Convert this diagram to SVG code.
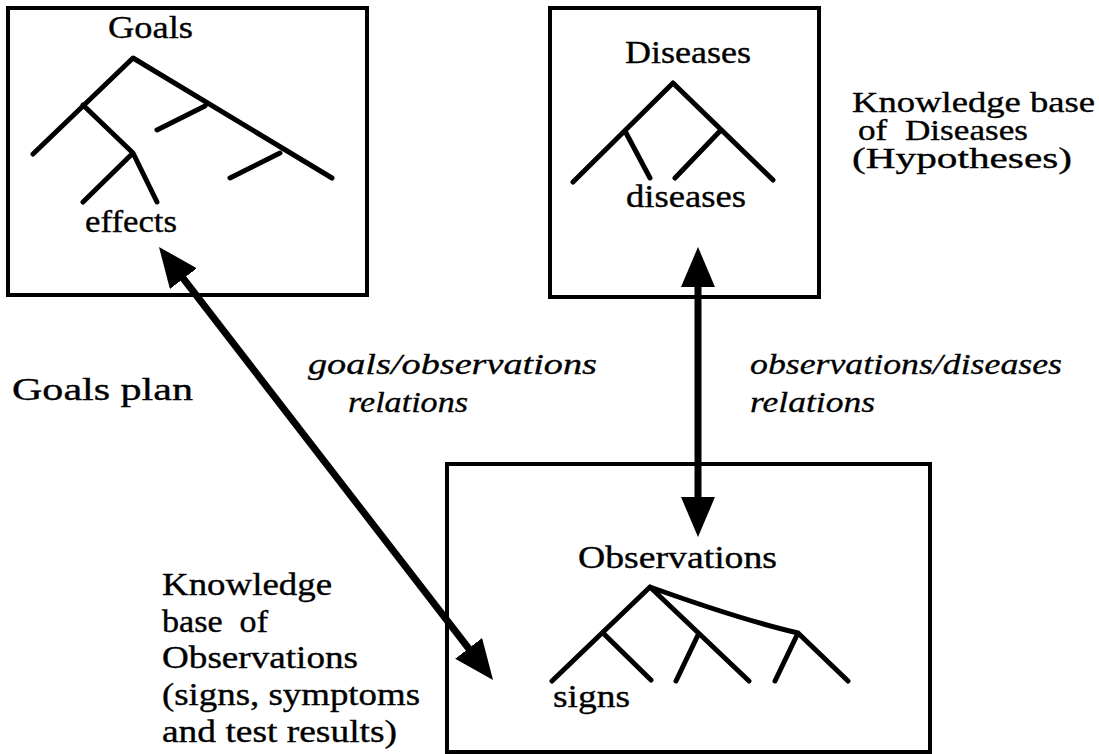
<svg xmlns="http://www.w3.org/2000/svg" width="1099" height="754" viewBox="0 0 1099 754">
  <style>
    .box { fill: none; stroke: #000; stroke-width: 4; }
    .tree { fill: none; stroke: #000; stroke-width: 5; stroke-linecap: round; stroke-linejoin: round; }
    .lbl { font-family: "Liberation Serif", "Times New Roman", serif; font-size: 31px; fill: #000; stroke: #000; stroke-width: 0.35; }
    .cap { font-size: 30px; }
    .rel { font-family: "Liberation Serif", "Times New Roman", serif; font-size: 29px; font-style: italic; fill: #000; stroke: #000; stroke-width: 0.3; }
    .link { fill: none; stroke: #000; stroke-width: 7; }
  </style>
  <defs>
    <marker id="head" markerUnits="userSpaceOnUse" markerWidth="42" markerHeight="34" refX="9" refY="17" orient="auto-start-reverse">
      <path d="M0,0 L40,17 L0,34 Z" fill="#000"/>
    </marker>
  </defs>
  <rect width="1099" height="754" fill="#fff"/>

  <!-- goals hierarchy -->
  <g id="goals">
    <rect class="box" x="8" y="8" width="359" height="287"/>
    <text class="lbl" x="108" y="38" textLength="85" lengthAdjust="spacingAndGlyphs">Goals</text>
    <path class="tree" d="M33,154 L133,58 L332,178 M83,105 L133,153 L83,202 M133,153 L157,202 M205,106 L157,130 M280,153 L230,178"/>
    <text class="lbl" x="85" y="232" textLength="92" lengthAdjust="spacingAndGlyphs">effects</text>
  </g>

  <!-- diseases hierarchy -->
  <g id="diseases">
    <rect class="box" x="550" y="8" width="269" height="289"/>
    <text class="lbl" x="625" y="63" textLength="126" lengthAdjust="spacingAndGlyphs">Diseases</text>
    <path class="tree" d="M573,182 L673,83 L773,180 M625,131 L650,178 M721,130 L675,178"/>
    <text class="lbl" x="626" y="207" textLength="120" lengthAdjust="spacingAndGlyphs">diseases</text>
  </g>

  <!-- observations hierarchy -->
  <g id="observations">
    <rect class="box" x="447" y="464" width="483" height="288"/>
    <text class="lbl" x="578" y="568" textLength="199" lengthAdjust="spacingAndGlyphs">Observations</text>
    <path class="tree" d="M552,681 L650,587 L749,681 M603,633 L651,680 M698,635 L676,681 M650,587 Q742,620 798,633 L848,681 M798,633 L775,681"/>
    <text class="lbl" x="553" y="707" textLength="77" lengthAdjust="spacingAndGlyphs">signs</text>
  </g>

  <!-- side captions -->
  <g id="kb-diseases">
    <text class="lbl cap" style="white-space:pre"><tspan x="852" y="112" textLength="243" lengthAdjust="spacingAndGlyphs">Knowledge base</tspan><tspan x="858" y="140" textLength="170" lengthAdjust="spacingAndGlyphs">of  Diseases</tspan><tspan x="852" y="168" textLength="220" lengthAdjust="spacingAndGlyphs">(Hypotheses)</tspan></text>
  </g>
  <g id="goals-plan">
    <text class="lbl" x="12" y="400" textLength="181" lengthAdjust="spacingAndGlyphs">Goals plan</text>
  </g>
  <g id="kb-observations">
    <text class="lbl" x="162" y="595" textLength="170" lengthAdjust="spacingAndGlyphs">Knowledge</text>
    <text class="lbl" x="162" y="632" textLength="106" lengthAdjust="spacingAndGlyphs" style="white-space:pre">base  of</text>
    <text class="lbl" x="162" y="668" textLength="196" lengthAdjust="spacingAndGlyphs">Observations</text>
    <text class="lbl" x="162" y="705" textLength="258" lengthAdjust="spacingAndGlyphs">(signs, symptoms</text>
    <text class="lbl" x="162" y="742" textLength="235" lengthAdjust="spacingAndGlyphs">and test results)</text>
  </g>

  <!-- relation connectors -->
  <g id="connectors">
    <line class="link" x1="177.9" y1="271.5" x2="474.1" y2="655.5" marker-start="url(#head)" marker-end="url(#head)"/>
    <line class="link" x1="698" y1="278" x2="698" y2="506" marker-start="url(#head)" marker-end="url(#head)"/>
    <text class="rel" x="308" y="374" textLength="289" lengthAdjust="spacingAndGlyphs">goals/observations</text>
    <text class="rel" x="348" y="412" textLength="120" lengthAdjust="spacingAndGlyphs">relations</text>
    <text class="rel" x="750" y="374" textLength="312" lengthAdjust="spacingAndGlyphs">observations/diseases</text>
    <text class="rel" x="750" y="412" textLength="125" lengthAdjust="spacingAndGlyphs">relations</text>
  </g>
</svg>
